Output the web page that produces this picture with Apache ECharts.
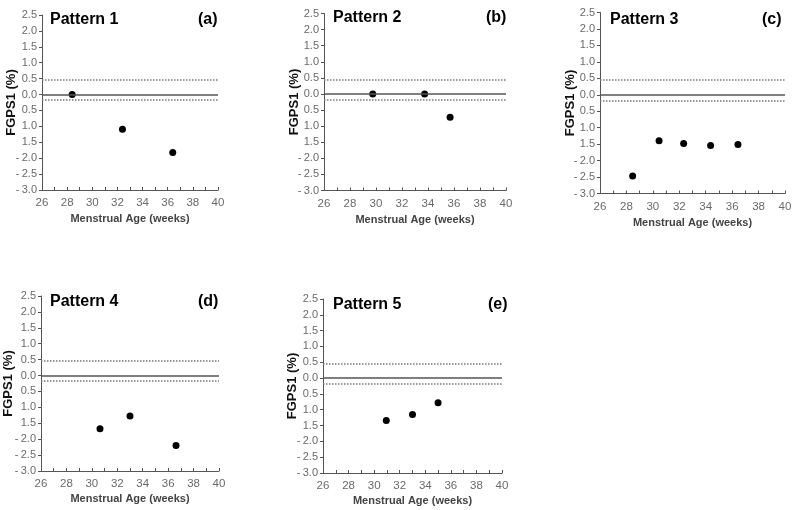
<!DOCTYPE html>
<html>
<head>
<meta charset="utf-8">
<script src="https://cdn.jsdelivr.net/npm/echarts@6/dist/echarts.min.js"></script>
<style>html,body{margin:0;padding:0;background:#fff}#c{width:800px;height:510px}</style>
</head>
<body>
<div id="c"></div>
<script>
// ---- data ----
const panelTitles = ['Pattern 1','Pattern 2','Pattern 3','Pattern 4','Pattern 5'];
const panelLetters = ['(a)','(b)','(c)','(d)','(e)'];
const xA = [28.4, 32.4, 36.4];
const yA = [0.0, -1.09, -1.82];
const xB = [29.75, 33.74, 35.7];
const yB = [0.0, 0.0, -0.72];
const xC = [28.47, 30.47, 32.33, 34.37, 36.44];
const yC = [-2.47, -1.40, -1.48, -1.54, -1.51];
const xD = [30.64, 33.0, 36.62];
const yD = [-1.67, -1.27, -2.2];
const xE = [30.95, 33.0, 35.0];
const yE = [-1.34, -1.15, -0.78];
const yTickLabels = ['2.5','2.0','1.5','1.0','0.5','0.0','0.5','1.0','1.5','-\u20092.0','-\u20092.5','-\u20093.0'];
const xTickLabels = ['26','28','30','32','34','36','38','40'];
const upperLimit = 0.45;
const lowerLimit = -0.17;
const zeroLine = 0.0;
const yAxisName = 'FGPS1 (%)';
const xAxisName = 'Menstrual Age (weeks)';

// ---- layout ----
const grids = [
  {left: 42, top: 15, width: 176, height: 175, yGap: 24, xGap: 23},
  {left: 324, top: 13.5, width: 182, height: 177, yGap: 23, xGap: 24},
  {left: 600, top: 12.5, width: 185, height: 181, yGap: 23, xGap: 24},
  {left: 41, top: 296, width: 178, height: 175, yGap: 26, xGap: 22},
  {left: 323, top: 299, width: 179, height: 174, yGap: 24, xGap: 22}
];
const titlePos = [
  {tx: 50, lx: 198, y: 15},
  {tx: 333, lx: 486, y: 13},
  {tx: 610, lx: 762, y: 15},
  {tx: 50, lx: 198, y: 296.5},
  {tx: 333, lx: 488, y: 300}
];
const xs = [xA, xB, xC, xD, xE];
const ys = [yA, yB, yC, yD, yE];

const axisColor = '#555';
const labelColor = '#6a6a6a';
const font = 'Liberation Sans, Arial, sans-serif';

const option = {
  animation: false,
  backgroundColor: '#fff',
  title: [],
  grid: [],
  xAxis: [],
  yAxis: [],
  series: []
};

grids.forEach((g, i) => {
  option.grid.push({left: g.left, top: g.top, width: g.width, height: g.height, containLabel: false});
  option.title.push({
    text: panelTitles[i], left: titlePos[i].tx, top: titlePos[i].y - 3, padding: 0,
    textStyle: {fontSize: 16, fontWeight: 'bold', color: '#000', fontFamily: font}
  });
  option.title.push({
    text: panelLetters[i], left: titlePos[i].lx, top: titlePos[i].y - 3, padding: 0,
    textStyle: {fontSize: 16, fontWeight: 'bold', color: '#000', fontFamily: font}
  });
  option.xAxis.push({
    type: 'value', gridIndex: i, min: 26, max: 40, interval: 1,
    name: xAxisName, nameLocation: 'middle', nameGap: g.xGap, nameMoveOverlap: false,
    nameTextStyle: {fontSize: 11, fontWeight: 'bold', color: '#444', fontFamily: font},
    axisLine: {show: true, onZero: false, lineStyle: {color: axisColor, width: 1}},
    axisTick: {show: true, inside: true, length: 3, lineStyle: {color: axisColor}},
    axisLabel: {
      margin: 7, fontSize: 11.5, color: labelColor, fontFamily: font,
      formatter: v => (Math.round(v) % 2 === 0 ? xTickLabels[(Math.round(v) - 26) / 2] : '')
    },
    splitLine: {show: false}
  });
  option.yAxis.push({
    type: 'value', gridIndex: i, min: -3, max: 2.5, interval: 0.5,
    name: yAxisName, nameLocation: 'middle', nameGap: g.yGap, nameMoveOverlap: false,
    nameTextStyle: {fontSize: 13, fontWeight: 'bold', color: '#111', fontFamily: font},
    axisLine: {show: true, onZero: false, lineStyle: {color: axisColor, width: 1}},
    axisTick: {show: true, inside: false, length: 3, lineStyle: {color: axisColor}},
    axisLabel: {
      margin: 5, fontSize: 11, color: labelColor, fontFamily: font,
      formatter: v => yTickLabels[Math.round((2.5 - v) / 0.5)]
    },
    splitLine: {show: false}
  });
  option.series.push({
    type: 'scatter', xAxisIndex: i, yAxisIndex: i,
    data: xs[i].map((x, k) => [x, ys[i][k]]),
    symbol: 'circle', symbolSize: 7,
    itemStyle: {color: '#000', opacity: 1},
    markLine: {
      silent: true, symbol: 'none', label: {show: false},
      data: [
        {yAxis: upperLimit, lineStyle: {type: 'dotted', color: '#777', width: 1.5}},
        {yAxis: lowerLimit, lineStyle: {type: 'dotted', color: '#777', width: 1.5}},
        {yAxis: zeroLine, lineStyle: {type: 'solid', color: '#555', width: 1.5}}
      ]
    }
  });
});

const chart = echarts.init(document.getElementById('c'), null, {renderer: 'canvas'});
chart.setOption(option);
</script>
</body>
</html>
